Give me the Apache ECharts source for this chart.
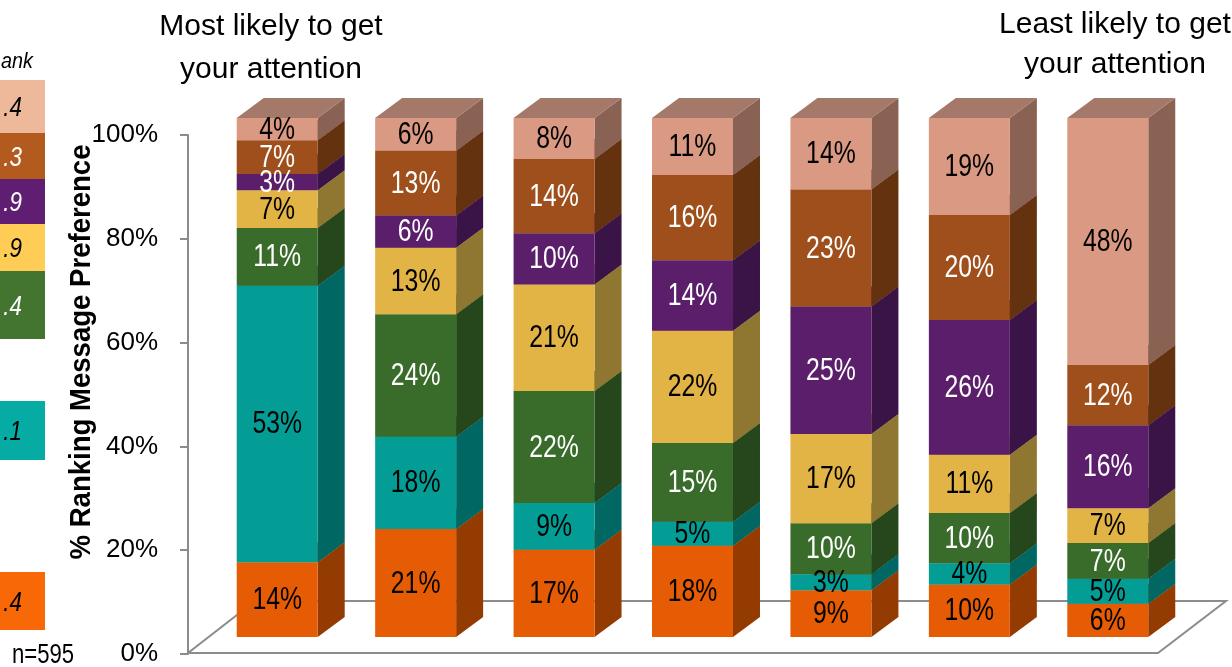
<!DOCTYPE html>
<html>
<head>
<meta charset="utf-8">
<script src="https://cdn.jsdelivr.net/npm/echarts@6/dist/echarts.min.js"></script>
<style>
html,body{margin:0;padding:0;background:#fff;}
#c{width:1232px;height:667px;}
</style>
</head>
<body>
<div id="c"></div>
<script>
// ---- data (percent of respondents, bottom segment = rank 1) ----
const categories = ['Message 1','Message 2','Message 3','Message 4','Message 5','Message 6','Message 7'];
const rank1 = [14.4, 20.8, 16.8, 17.6, 9.0, 10.1, 6.4];    // orange
const rank2 = [53.3, 17.8, 9.0, 4.6, 3.1, 4.1, 4.8];       // teal
const rank3 = [11.1, 23.6, 21.6, 15.2, 9.8, 9.7, 6.9];     // green
const rank4 = [7.3, 12.8, 20.5, 21.6, 17.2, 11.2, 6.7];    // yellow
const rank5 = [3.1, 6.2, 9.9, 13.6, 24.6, 26.0, 16.0];     // purple
const rank6 = [6.5, 12.5, 14.3, 16.4, 22.5, 20.2, 11.6];   // brown
const rank7 = [4.3, 6.3, 7.9, 11.0, 13.8, 18.7, 47.6];     // pink
const yTicks = [0, 20, 40, 60, 80, 100];
const legendTexts = ['.4', '.3', '.9', '.9', '.4', '.1', '.4'];
const legendHeader = 'ank';
const sampleNote = 'n=595';
const titleLeft = 'Most likely to get\nyour attention';
const titleRight = 'Least likely to get\nyour attention';
const yAxisTitle = '% Ranking Message Preference';

// ---- styles ----
const FONT = "'Liberation Sans',Arial,sans-serif";
const NARROW = 0.8;
const seriesList = [rank1, rank2, rank3, rank4, rank5, rank6, rank7];
const styles = [
  {front:'#E55C04', side:'#943B02', top:'#B84A03', label:'#000'},
  {front:'#039D96', side:'#006763', top:'#027F79', label:'#000'},
  {front:'#396B2A', side:'#26461B', top:'#2F5822', label:'#fff'},
  {front:'#E2B345', side:'#8F7631', top:'#B8953B', label:'#000'},
  {front:'#5A1E6B', side:'#3A1446', top:'#4A1958', label:'#fff'},
  {front:'#9E4F1C', side:'#64320F', top:'#814016', label:'#fff'},
  {front:'#D99982', side:'#8A6253', top:'#A5796A', label:'#000'}
];
const legendStyles = [
  {fill:'#EDB99A', text:'#000', y0:80,  y1:133},
  {fill:'#B35A1F', text:'#fff', y0:133, y1:179},
  {fill:'#5F1E72', text:'#fff', y0:179, y1:224},
  {fill:'#FFCC55', text:'#000', y0:224, y1:271},
  {fill:'#437530', text:'#fff', y0:271, y1:339},
  {fill:'#06ACA3', text:'#000', y0:401, y1:460},
  {fill:'#F86806', text:'#000', y0:572, y1:630}
];
const DX = 27, DY = 20;

// stacked data
const stackBase = categories.map(() => 0);
const seriesData = seriesList.map(arr => arr.map((v, i) => {
  const lo = stackBase[i];
  stackBase[i] += v;
  return [i, lo, lo + v, v];
}));

function makeRender(st) {
  return function (params, api) {
    const x = api.value(0), lo = api.value(1), hi = api.value(2), v = api.value(3);
    const pLo = api.coord([x, lo]);
    const pHi = api.coord([x, hi]);
    const bw = api.size([1, 0])[0] * 0.585;
    const x0 = pLo[0] - bw / 2, x1 = pLo[0] + bw / 2;
    const yb = pLo[1], yt = pHi[1];
    return {
      type: 'group',
      children: [
        {type:'polygon', shape:{points:[[x1,yb],[x1+DX,yb-DY],[x1+DX,yt-DY],[x1,yt]]}, style:{fill:st.side}},
        {type:'polygon', shape:{points:[[x0,yt],[x0+DX,yt-DY],[x1+DX,yt-DY],[x1,yt]]}, style:{fill:st.top}},
        {type:'rect', shape:{x:x0, y:yt, width:bw, height:yb-yt}, style:{fill:st.front}},
        {type:'text', z2:100, x: pLo[0], y: (yb+yt)/2 + 1, scaleX: NARROW,
          style:{text: Math.round(v) + '%', x:0, y:0, align:'center', verticalAlign:'middle',
          fill: st.label, font: '31px ' + FONT}}
      ]
    };
  };
}

const chart = echarts.init(document.getElementById('c'), null, {renderer:'canvas'});

const g = [];
legendStyles.forEach((ls, i) => {
  g.push({type:'rect', z:1, shape:{x:0, y:ls.y0, width:45, height:ls.y1-ls.y0}, style:{fill:ls.fill}});
  g.push({type:'text', z:2, x:22, y:(ls.y0+ls.y1)/2+2, scaleX:NARROW,
    style:{text:legendTexts[i], x:0, y:0, align:'right', verticalAlign:'middle', fill:ls.text, font:'italic 28px ' + FONT}});
});
g.push({type:'text', x:33, y:62, scaleX:0.9, style:{text:legendHeader, x:0, y:0, align:'right', verticalAlign:'middle', fill:'#000', font:'italic 22px ' + FONT}});
g.push({type:'text', x:12, y:656, scaleX:0.82, style:{text:sampleNote, x:0, y:0, align:'left', verticalAlign:'middle', fill:'#000', font:'27px ' + FONT}});
g.push({type:'text', x:271, y:48, style:{text:titleLeft, x:0, y:0, align:'center', verticalAlign:'middle', fill:'#000', font:'30px ' + FONT, lineHeight:43}});
g.push({type:'text', x:1115, y:45, style:{text:titleRight, x:0, y:0, align:'center', verticalAlign:'middle', fill:'#000', font:'30px ' + FONT, lineHeight:40}});
g.push({type:'text', x:82, y:352, rotation:Math.PI/2, scaleX:0.95,
  style:{text:yAxisTitle, x:0, y:0, align:'center', verticalAlign:'middle', fill:'#000', font:'bold 29px ' + FONT}});
// floor
g.push({type:'polygon', z:0, shape:{points:[[188,653],[1158,653],[1226,601],[255,601]]},
  style:{fill:'none', stroke:'#8C8C8C', lineWidth:2}});

chart.setOption({
  animation: false,
  backgroundColor: '#fff',
  grid: [
    {left:188, right:100, top:135, bottom:12},
    {left:208, right:55, top:118, bottom:30}
  ],
  xAxis: [
    {type:'category', gridIndex:0, data:categories, show:false},
    {type:'category', gridIndex:1, data:categories, show:false}
  ],
  yAxis: [
    {type:'value', gridIndex:0, min:yTicks[0], max:yTicks[yTicks.length-1], interval:yTicks[1]-yTicks[0],
     axisLine:{show:true, lineStyle:{color:'#8C8C8C', width:2}},
     axisTick:{show:true, length:8, lineStyle:{color:'#8C8C8C', width:2}},
     splitLine:{show:false},
     axisLabel:{formatter:'{value}%', margin:30, fontFamily:FONT, fontSize:26, color:'#000'}},
    {type:'value', gridIndex:1, min:0, max:100, show:false, splitLine:{show:false}}
  ],
  graphic: g,
  series: seriesData.map((d, i) => ({
    type:'custom', xAxisIndex:1, yAxisIndex:1, data:d, renderItem: makeRender(styles[i]), clip:false
  }))
});
</script>
</body>
</html>
